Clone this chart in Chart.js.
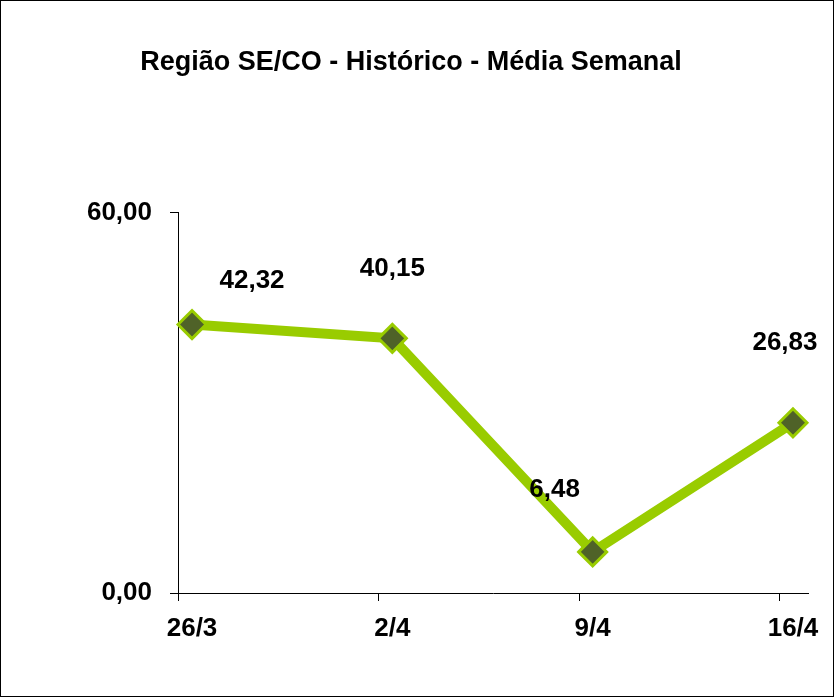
<!DOCTYPE html>
<html>
<head>
<meta charset="utf-8">
<script src="https://cdn.jsdelivr.net/npm/chart.js@4.4.0/dist/chart.umd.min.js"></script>
<style>
  body { margin: 0; background: #fff; }
  canvas { display: block; }
</style>
</head>
<body>
<canvas id="my_chart" width="834" height="697"></canvas>
<script>
// Data
const categories = ['26/3', '2/4', '9/4', '16/4'];
const values = [42.32, 40.15, 6.48, 26.83];
const yTicks = [0, 60];

// Label offsets (px) from each point, as placed in the original
const labelOffsets = [[60, -44], [0, -69], [-38, -62], [-8, -80]];

const fmt = v => v.toFixed(2).replace('.', ',');
const FONT = "'Liberation Sans', Arial, sans-serif";

const ctx = document.getElementById('my_chart').getContext('2d');

// Outer frame
const framePlugin = {
  id: 'frame',
  beforeDraw(chart) {
    const c = chart.ctx;
    c.save();
    c.fillStyle = '#fff';
    c.fillRect(0, 0, chart.width, chart.height);
    c.strokeStyle = '#000';
    c.lineWidth = 1;
    c.strokeRect(0.5, 0.5, chart.width - 1, chart.height - 1);
    c.restore();
  }
};

// Small tick marks under the x axis, sitting just left of each category
const xTickPlugin = {
  id: 'xTicks',
  afterDraw(chart) {
    const x = chart.scales.x;
    const c = chart.ctx;
    c.save();
    c.strokeStyle = '#000';
    c.lineWidth = 1;
    categories.forEach((_, i) => {
      const px = Math.round(x.getPixelForValue(i - 0.07)) + 0.5;
      c.beginPath();
      c.moveTo(px, x.top);
      c.lineTo(px, x.top + 8);
      c.stroke();
    });
    c.restore();
  }
};

// Value labels
const valueLabels = {
  id: 'valueLabels',
  afterDatasetsDraw(chart) {
    const meta = chart.getDatasetMeta(0);
    const c = chart.ctx;
    c.save();
    c.font = 'bold 26px ' + FONT;
    c.fillStyle = '#000';
    c.textAlign = 'center';
    c.textBaseline = 'middle';
    meta.data.forEach((pt, i) => {
      const o = labelOffsets[i];
      c.fillText(fmt(values[i]), pt.x + o[0], pt.y + o[1]);
    });
    c.restore();
  }
};

const config = {
  type: 'line',
  data: {
    datasets: [{
      data: values.map((v, i) => ({ x: i, y: v })),
      borderColor: '#99CC00',
      borderWidth: 10,
      pointStyle: 'rectRot',
      pointRadius: 14,
      pointBackgroundColor: '#4F6228',
      pointBorderColor: '#99CC00',
      pointBorderWidth: 3,
      tension: 0,
      clip: false
    }]
  },
  options: {
    responsive: false,
    animation: false,
    layout: { padding: { left: 14, right: 26, top: 0, bottom: 0 } },
    plugins: {
      legend: { display: false },
      tooltip: { enabled: false },
      title: {
        display: true,
        text: 'Região SE/CO - Histórico - Média Semanal',
        color: '#000',
        font: { family: FONT, size: 27, weight: 'bold', lineHeight: 1.2 },
        padding: { top: 46, bottom: 134 }
      }
    },
    scales: {
      x: {
        type: 'linear',
        min: -0.07,
        max: 3.075,
        afterBuildTicks: s => { s.ticks = categories.map((_, i) => ({ value: i })); },
        afterFit: s => { s.height = 104; s.paddingRight = 0; s.paddingLeft = 0; },
        grid: { drawOnChartArea: false, drawTicks: false, color: 'transparent' },
        border: { display: true, color: '#000', width: 1 },
        ticks: {
          padding: 20,
          color: '#000',
          font: { family: FONT, size: 26, weight: 'bold' },
          callback: v => categories[v]
        }
      },
      y: {
        min: 0,
        max: 60,
        afterBuildTicks: s => { s.ticks = yTicks.map(v => ({ value: v })); },
        afterFit: s => { s.width = 164; },
        grid: { drawOnChartArea: false, drawTicks: true, tickLength: 8, color: '#000' },
        border: { display: true, color: '#000', width: 1 },
        ticks: {
          padding: 18,
          color: '#000',
          font: { family: FONT, size: 26, weight: 'bold' },
          callback: v => fmt(v)
        }
      }
    }
  },
  plugins: [framePlugin, xTickPlugin, valueLabels]
};

const myChart = new Chart(ctx, config);
</script>
</body>
</html>
